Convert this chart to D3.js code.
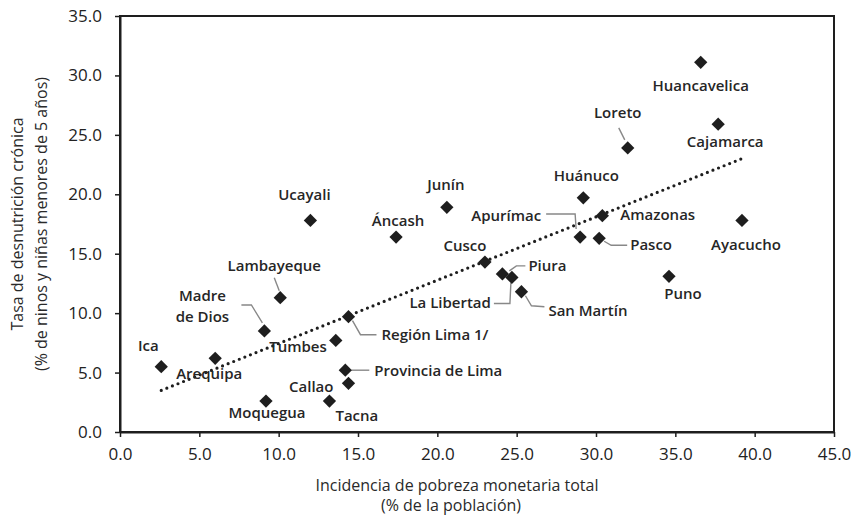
<!DOCTYPE html>
<html><head><meta charset="utf-8">
<script src="https://cdn.jsdelivr.net/npm/d3@7"></script>
<style>
html,body{margin:0;padding:0;background:#fff;}
svg{display:block;font-family:"Open Sans",Lato,sans-serif;}
</style></head>
<body><svg id="c" width="851" height="517"></svg>
<script>
// ---- data ----
const regions = ["Huancavelica","Cajamarca","Loreto","Huánuco","Amazonas","Apurímac","Pasco","Ayacucho","Puno",
  "Ucayali","Junín","Áncash","Cusco","Piura","La Libertad","San Martín","Región Lima 1/","Tumbes",
  "Provincia de Lima","Callao","Tacna","Moquegua","Lambayeque","Madre de Dios","Arequipa","Ica"];
const poverty = [36.6,37.7,32.0,29.2,30.4,29.0,30.2,39.2,34.6,
  12.0,20.6,17.4,23.0,24.1,24.7,25.3,14.4,13.6,
  14.2,14.4,13.2,9.2,10.1,9.1,6.0,2.6];
const stunting = [31.1,25.9,23.9,19.7,18.2,16.4,16.3,17.8,13.1,
  17.8,18.9,16.4,14.3,13.3,13.0,11.8,9.7,7.7,
  5.2,4.1,2.6,2.6,11.3,8.5,6.2,5.5];
const trendX = [2.6, 39.2];
const trendY = [3.5, 23.0];
const xTicks = [0,5,10,15,20,25,30,35,40,45];
const yTicks = [0,5,10,15,20,25,30,35];
const xTitle = ["Incidencia de pobreza monetaria total","(% de la población)"];
const yTitle = ["Tasa de desnutrición crónica","(% de ninos y niñas menores de 5 años)"];

// ---- label layout (pixel offsets from marker) ----
const layout = {
  "Huancavelica":{a:"middle",dx:0,dy:29},
  "Cajamarca":{a:"middle",dx:7,dy:23},
  "Loreto":{a:"middle",dx:-10,dy:-30,lead:[[-9,-20],[-3,-8]]},
  "Huánuco":{a:"middle",dx:3,dy:-17},
  "Amazonas":{a:"start",dx:18,dy:4},
  "Apurímac":{a:"end",dx:-39,dy:-16,lead:[[-34,-23],[-5,-23],[-4,-8]]},
  "Pasco":{a:"start",dx:31,dy:12,lead:[[5,3],[12,7],[28,7]]},
  "Ayacucho":{a:"middle",dx:4,dy:30},
  "Puno":{a:"middle",dx:14,dy:23},
  "Ucayali":{a:"middle",dx:-6,dy:-20},
  "Junín":{a:"middle",dx:-1,dy:-17},
  "Áncash":{a:"middle",dx:2,dy:-11},
  "Cusco":{a:"middle",dx:-20,dy:-11},
  "Piura":{a:"start",dx:26,dy:-3,lead:[[23,-8],[14,-8],[7,-3]]},
  "La Libertad":{a:"end",dx:-21,dy:31,lead:[[-18,26],[-2,26],[-1,5]]},
  "San Martín":{a:"start",dx:27,dy:24,lead:[[4,4],[10,14],[23,15]]},
  "Región Lima 1/":{a:"start",dx:33,dy:23,lead:[[4,4],[12,18],[28,18]]},
  "Tumbes":{a:"end",dx:-9,dy:12},
  "Provincia de Lima":{a:"start",dx:29,dy:6,lead:[[6,0],[24,0]]},
  "Callao":{a:"end",dx:-15,dy:9},
  "Tacna":{a:"start",dx:6,dy:20},
  "Moquegua":{a:"middle",dx:1,dy:17},
  "Lambayeque":{a:"middle",dx:-6,dy:-27,lead:[[-6,-20],[-1,-7]]},
  "Madre de Dios":{a:"middle",dx:-62,dy:-30,lines:["Madre","de Dios"],lead:[[-23,-26],[-13,-26],[-2,-8]]},
  "Arequipa":{a:"middle",dx:-6,dy:21},
  "Ica":{a:"middle",dx:-13,dy:-16}
};

const svg = d3.select("#c");
const L=120, R=834, T=16, B=432;
const x = d3.scaleLinear().domain([0,45]).range([L,R]);
const y = d3.scaleLinear().domain([0,35]).range([B,T]);
const ink = "#1e1e1e";

// frame
svg.append("rect").attr("x",L).attr("y",T).attr("width",R-L).attr("height",B-T)
  .attr("fill","none").attr("stroke",ink).attr("stroke-width",2);

// axes
const xAxis = svg.append("g").attr("transform",`translate(0,${B})`)
  .call(d3.axisBottom(x).tickValues(xTicks).tickFormat(d3.format(".1f")).tickSizeInner(5).tickSizeOuter(0).tickPadding(11));
const yAxis = svg.append("g").attr("transform",`translate(${L},0)`)
  .call(d3.axisLeft(y).tickValues(yTicks).tickFormat(d3.format(".1f")).tickSizeInner(5).tickSizeOuter(0).tickPadding(13));
[xAxis,yAxis].forEach(g=>{
  g.select(".domain").attr("stroke",ink).attr("stroke-width",2);
  g.selectAll(".tick line").attr("stroke",ink).attr("stroke-width",1.5);
  g.selectAll(".tick text").attr("fill","#222").style("font-size","17px").style("font-family","'Open Sans', sans-serif");
});

// trend line (dotted)
const line = d3.line().x(d=>x(d[0])).y(d=>y(d[1]));
svg.append("path").datum(d3.zip(trendX,trendY)).attr("d",line)
  .attr("fill","none").attr("stroke",ink).attr("stroke-width",3.2)
  .attr("stroke-linecap","round").attr("stroke-dasharray","0,6");

// leader lines
regions.forEach((r,i)=>{
  const o = layout[r]; if(!o.lead) return;
  const px=x(poverty[i]), py=y(stunting[i]);
  svg.append("path").attr("d", d3.line()(o.lead.map(p=>[px+p[0],py+p[1]])))
    .attr("fill","none").attr("stroke","#888").attr("stroke-width",1.4);
});

// markers
svg.append("g").selectAll("path").data(regions).join("path")
  .attr("d", d3.symbol(d3.symbolSquare, 88)())
  .attr("transform",(d,i)=>`translate(${x(poverty[i])},${y(stunting[i])}) rotate(45)`)
  .attr("fill",ink);

// labels
regions.forEach((r,i)=>{
  const o = layout[r];
  const px=x(poverty[i]), py=y(stunting[i]);
  const t = svg.append("text").attr("x",px+o.dx).attr("y",py+o.dy)
    .attr("text-anchor",o.a).attr("fill","#262626").style("font-size","15px").style("font-weight","600");
  if(o.lines){
    o.lines.forEach((s,k)=>t.append("tspan").attr("x",px+o.dx).attr("dy",k?21:0).text(s));
  } else t.text(r);
});

// axis titles
svg.append("text").attr("x",457).attr("y",491).attr("text-anchor","middle")
  .attr("fill","#2a2a2a").style("font-size","16px").text(xTitle[0]);
svg.append("text").attr("x",451).attr("y",511).attr("text-anchor","middle")
  .attr("fill","#2a2a2a").style("font-size","16px").text(xTitle[1]);
yTitle.forEach((s,k)=>{
  svg.append("text").attr("transform",`translate(${23+k*24},${(T+B)/2}) rotate(-90)`)
    .attr("text-anchor","middle").attr("fill","#2a2a2a").style("font-size","16px").text(s);
});
</script></body></html>
